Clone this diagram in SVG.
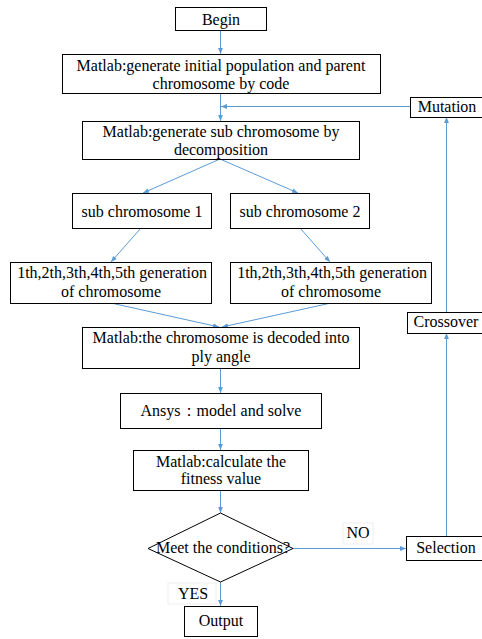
<svg xmlns="http://www.w3.org/2000/svg" width="482" height="639" viewBox="0 0 482 639">
<defs>
<marker id="ah" viewBox="0 0 10 10" refX="10" refY="5" markerWidth="6" markerHeight="6" orient="auto" markerUnits="userSpaceOnUse">
<path d="M0,1 L10,5 L0,9 z" fill="#5B9BD5"/>
</marker>
<style>
.b{fill:#fff;stroke:#000;stroke-width:1}
.t{font-family:'Liberation Serif',serif;font-size:16px;fill:#000;text-anchor:middle}
.c{fill:none;stroke:#5B9BD5;stroke-width:1;marker-end:url(#ah)}
.lb{fill:#fff;stroke:#eeeeee;stroke-width:1}
</style>
</defs>
<rect width="482" height="639" fill="#fff"/>
<g id="connectors">
<path class="c" d="M220.5,31 V54"/>
<path class="c" d="M220.5,93 V121"/>
<path class="c" d="M410,106.5 H221"/>
<path class="c" d="M220,159 L143,193"/>
<path class="c" d="M220,159 L298,193"/>
<path class="c" d="M141,228 L111,262"/>
<path class="c" d="M300,228 L330,262"/>
<path class="c" d="M111,303 L219,327"/>
<path class="c" d="M331,303 L222,327"/>
<path class="c" d="M220.5,368 V393"/>
<path class="c" d="M220.5,428 V450"/>
<path class="c" d="M220.5,490 V513"/>
<path class="c" d="M293,548.5 H406"/>
<path class="c" d="M220.5,582 V606"/>
<path class="c" d="M446.5,536 V333"/>
<path class="c" d="M446.5,312 V117"/>
</g>
<g id="begin"><rect class="b" x="175.5" y="7.5" width="91" height="23"/><text class="t" font-family="Liberation Serif" x="221" y="25">Begin</text></g>
<g id="init"><rect class="b" x="62.5" y="54.5" width="318" height="39"/><text class="t" font-family="Liberation Serif" x="221" y="71">Matlab:generate initial population and parent</text><text class="t" font-family="Liberation Serif" x="221" y="89">chromosome by code</text></g>
<g id="mutation"><rect class="b" x="410.5" y="97.5" width="72" height="20"/><text class="t" font-family="Liberation Serif" x="447" y="112">Mutation</text></g>
<g id="decomp"><rect class="b" x="82.5" y="121.5" width="277" height="38"/><text class="t" font-family="Liberation Serif" x="221" y="137">Matlab:generate sub chromosome by</text><text class="t" font-family="Liberation Serif" x="221" y="155">decomposition</text></g>
<g id="sub1"><rect class="b" x="72.5" y="193.5" width="139" height="35"/><text class="t" font-family="Liberation Serif" x="142" y="217">sub chromosome 1</text></g>
<g id="sub2"><rect class="b" x="230.5" y="193.5" width="139" height="35"/><text class="t" font-family="Liberation Serif" x="300" y="217">sub chromosome 2</text></g>
<g id="gen1"><rect class="b" x="10.5" y="262.5" width="201" height="41"/><text class="t" font-family="Liberation Serif" x="112" y="278">1th,2th,3th,4th,5th generation</text><text class="t" font-family="Liberation Serif" x="111" y="297">of chromosome</text></g>
<g id="gen2"><rect class="b" x="230.5" y="262.5" width="201" height="41"/><text class="t" font-family="Liberation Serif" x="332" y="278">1th,2th,3th,4th,5th generation</text><text class="t" font-family="Liberation Serif" x="331" y="297">of chromosome</text></g>
<g id="crossover"><rect class="b" x="407.5" y="312.5" width="75" height="21"/><text class="t" font-family="Liberation Serif" x="446" y="327">Crossover</text></g>
<g id="decode"><rect class="b" x="82.5" y="327.5" width="277" height="41"/><text class="t" font-family="Liberation Serif" x="221" y="343">Matlab:the chromosome is decoded into</text><text class="t" font-family="Liberation Serif" x="221" y="362">ply angle</text></g>
<g id="ansys"><rect class="b" x="120.5" y="393.5" width="201" height="35"/><text class="t" font-family="Liberation Serif, Noto Sans CJK SC, serif" x="221" y="416">Ansys&#xFF1A;model and solve</text></g>
<g id="fitness"><rect class="b" x="133.5" y="450.5" width="175" height="40"/><text class="t" font-family="Liberation Serif" x="221" y="467">Matlab:calculate the</text><text class="t" font-family="Liberation Serif" x="221" y="484">fitness value</text></g>
<g id="decision"><path class="b" d="M220.5,513 L293,548.5 L220.5,582 L148,548.5 Z"/><text class="t" font-family="Liberation Serif" x="223" y="553">Meet the conditions?</text></g>
<g id="no-label"><rect class="lb" x="343" y="523" width="30" height="21"/><text class="t" font-family="Liberation Serif" x="358" y="538">NO</text></g>
<g id="selection"><rect class="b" x="406.5" y="536.5" width="76" height="24"/><text class="t" font-family="Liberation Serif" x="446" y="553">Selection</text></g>
<g id="yes-label"><rect class="lb" x="168" y="583" width="48" height="21"/><text class="t" font-family="Liberation Serif" x="193" y="599">YES</text></g>
<g id="output"><rect class="b" x="184.5" y="606.5" width="73" height="30"/><text class="t" font-family="Liberation Serif" x="221" y="626">Output</text></g>
</svg>
